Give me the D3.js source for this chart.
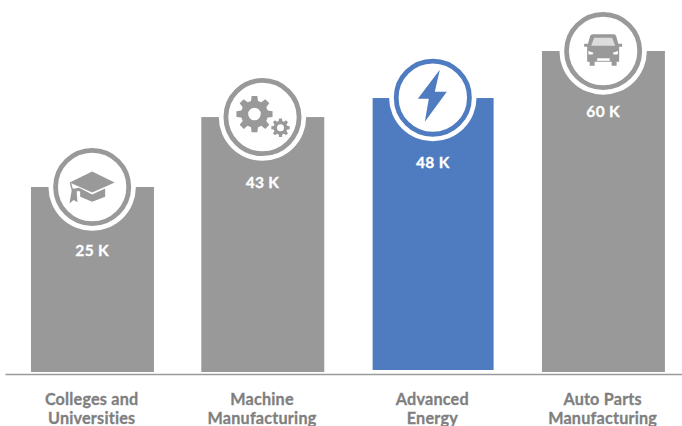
<!DOCTYPE html>
<html><head><meta charset="utf-8">
<script src="https://cdn.jsdelivr.net/npm/d3@7"></script>
<style>html,body{margin:0;padding:0;background:#fff;overflow:hidden}svg{display:block}text{font-family:Lato,"Open Sans",sans-serif;font-weight:700}</style>
</head><body><svg id="c" width="682" height="426"></svg>
<script>
const categories = ["Colleges and\nUniversities","Machine\nManufacturing","Advanced\nEnergy","Auto Parts\nManufacturing"];
const values = [25,43,48,60];
const valueLabels = ["25 K","43 K","48 K","60 K"];
const icons = ["cap","gears","bolt","car"];
const highlighted = "Advanced\nEnergy";
const yDomain = [-22.6,60];
const labelOffsets = [63,65,64.5,60];

const GREY="#999999", BLUE="#4f7cc0", LABEL="#7f7f7f";
const svg=d3.select("#c");
const x=d3.scaleBand().domain(categories).range([7.3,688.6]).paddingInner(.278).paddingOuter(.139);
const y=d3.scaleLinear().domain(yDomain).range([372,51]);
const col=c=>c===highlighted?BLUE:GREY;

svg.selectAll("rect.bar").data(categories).join("rect").attr("class","bar")
  .attr("x",d=>x(d)+(d===highlighted?1:0))
  .attr("width",d=>x.bandwidth()-(d===highlighted?2:0))
  .attr("y",(d,i)=>y(values[i])+(d===highlighted?.4:0))
  .attr("height",(d,i)=>y(yDomain[0])-y(values[i])-(d===highlighted?2.4:0))
  .attr("fill",col);

const ax=svg.append("g").attr("transform","translate(0,374)")
  .call(d3.axisBottom(x).tickSize(0).tickFormat(""));
ax.select(".domain").attr("d","M5.5,0.5H682").attr("stroke","#9a9a9a").attr("stroke-width",1.6);
ax.selectAll(".tick text").remove();

ax.selectAll(".tick").data(categories).each(function(d){
  const t=d3.select(this).append("text").attr("text-anchor","middle").attr("fill",LABEL)
    .attr("stroke",LABEL).attr("stroke-width",.3)
    .style("font-size","16.2px").style("letter-spacing","0.2px");
  d.split("\n").forEach((s,i)=>t.append("tspan").attr("x",-.8).attr("y",31+i*19).text(s));
});

function gear(r1,r2,n){
  const p=[],a=2*Math.PI/n;
  for(let i=0;i<n;i++){
    const t=i*a-Math.PI/2;
    [[-.33,r2],[-.2,r1],[.2,r1],[.33,r2]].forEach(([o,r])=>{
      const g=t+o*a; p.push([r*Math.cos(g),r*Math.sin(g)]);
    });
  }
  return "M"+p.map(q=>q.map(v=>v.toFixed(2)).join(",")).join("L")+"Z";
}
function hole(r){return `M${r},0A${r},${r} 0 1,0 ${-r},0A${r},${r} 0 1,0 ${r},0Z`;}

const drawIcon={
  cap(g){
    g.append("path").attr("fill",GREY).attr("d","M0,-15.500L22.500,-4.500L0,5.500L-22.500,-4.500Z");
    g.append("path").attr("fill",GREY).attr("d","M-16.500,1.500Q-14,0.500 -12.500,1L0,7.500L13,1.500V9.700L0,14.700L-12,9.700V4.500Q-14,3.500 -15.500,4.500L-14.700,15.300L-18.500,13L-22.700,16.500L-20.500,3.500L-22.500,-4.500L-20.800,-3.700L-19.500,1.500Z");
  },
  gears(g){
    g.append("path").attr("fill",GREY).attr("fill-rule","evenodd").attr("transform","translate(-8,-3)")
      .attr("d",gear(18.3,13.6,8)+hole(6.3));
    g.append("path").attr("fill",GREY).attr("fill-rule","evenodd").attr("transform","translate(18,10.700)")
      .attr("d",gear(9.3,7,8)+hole(3.5));
  },
  bolt(g){
    g.append("path").attr("fill",BLUE).attr("d","M7,-28L-15,1L-4,1L-8,24L14,-6L2,-6Z");
  },
  car(g){
    g.append("path").attr("fill",GREY).attr("d","M-10.500,-16.700H10.500Q12.500,-16.700 13,-15L15.200,-7.200H19V-4.300H16V10.700H13.500V14.700H8.500V10.700H-8.500V14.700H-13.500V10.700H-16V-4.300H-19V-7.200H-15.200L-13,-15Q-12.500,-16.700 -10.500,-16.700Z");
    g.append("path").attr("fill","#dcdcdc").attr("d","M-9,-13.300H9L12,-5.300H-12Z");
    g.append("path").attr("fill","#fff").attr("d","M-15,0L-9.700,1.800L-10.500,3.500H-14.500ZM15,0L9.700,1.800L10.500,3.500H14.500Z");
    g.append("rect").attr("fill","#fff").attr("x",-6).attr("y",7.300).attr("width",12.500).attr("height",2.500);
  }
};

categories.forEach((c,i)=>{
  const cx=x(c)+x.bandwidth()/2-.3, cy=y(values[i]);
  const g=svg.append("g").attr("transform",`translate(${cx},${cy})`);
  g.append("circle").attr("r",43.7).attr("fill","#fff");
  g.append("circle").attr("r",36.6).attr("fill","#fff").attr("stroke",col(c)).attr("stroke-width",4.8);
  drawIcon[icons[i]](g);
  svg.append("text").attr("x",cx).attr("y",cy+labelOffsets[i]).attr("dy","0.36em").attr("text-anchor","middle")
    .attr("fill","#fff").attr("stroke","#fff").attr("stroke-width",.3)
    .style("font-size","15.5px").style("letter-spacing","0.3px").text(valueLabels[i]);
});
</script></body></html>
